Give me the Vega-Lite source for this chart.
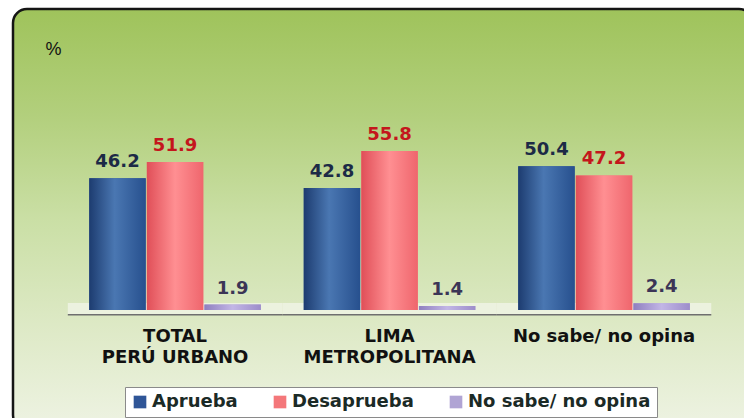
{
  "$schema": "https://vega.github.io/schema/vega-lite/v6.json",
  "width": 740,
  "height": 420,
  "autosize": {"type": "none"},
  "padding": {"left": 13, "top": 9, "right": 0, "bottom": 0},
  "background": "white",
  "config": {
    "view": {"stroke": "#151515", "strokeWidth": 2.5, "cornerRadius": 14,
      "fill": {"gradient": "linear", "x1": 0, "y1": 0, "x2": 0, "y2": 1,
        "stops": [{"offset": 0, "color": "#9fc35b"}, {"offset": 0.25, "color": "#b2cf7c"}, {"offset": 0.5, "color": "#cadfa5"}, {"offset": 0.75, "color": "#dde9c5"}, {"offset": 1, "color": "#eef3e3"}]}},
    "font": "DejaVu Sans"
  },
  "data": {
    "values": [
      {"grupo": "TOTAL|PERÚ URBANO", "serie": "Aprueba", "valor": 46.2},
      {"grupo": "TOTAL|PERÚ URBANO", "serie": "Desaprueba", "valor": 51.9},
      {"grupo": "TOTAL|PERÚ URBANO", "serie": "No sabe/ no opina", "valor": 1.9},
      {"grupo": "LIMA|METROPOLITANA", "serie": "Aprueba", "valor": 42.8},
      {"grupo": "LIMA|METROPOLITANA", "serie": "Desaprueba", "valor": 55.8},
      {"grupo": "LIMA|METROPOLITANA", "serie": "No sabe/ no opina", "valor": 1.4},
      {"grupo": "No sabe/ no opina", "serie": "Aprueba", "valor": 50.4},
      {"grupo": "No sabe/ no opina", "serie": "Desaprueba", "valor": 47.2},
      {"grupo": "No sabe/ no opina", "serie": "No sabe/ no opina", "valor": 2.4}
    ]
  },
  "layer": [
    {
      "transform": [{"filter": "datum.serie === 'Aprueba'"}],
      "mark": {"type": "bar", "width": {"band": 1.25}, "fill": "#eef3e4", "fillOpacity": 0.85},
      "encoding": {
        "x": {"field": "grupo", "type": "nominal"},
        "y": {"datum": 2.45, "type": "quantitative"},
        "y2": {"datum": -1.4}
      }
    },
    {
      "transform": [{"filter": "datum.serie === 'Aprueba'"}],
      "mark": {"type": "bar", "width": {"band": 1.25}, "fill": "#6f6f6f"},
      "encoding": {
        "x": {"field": "grupo", "type": "nominal"},
        "y": {"datum": -1.4, "type": "quantitative"},
        "y2": {"datum": -1.95}
      }
    },
    {
      "mark": {"type": "bar"},
      "encoding": {
        "x": {"field": "grupo", "type": "nominal",
          "scale": {"domain": ["TOTAL|PERÚ URBANO", "LIMA|METROPOLITANA", "No sabe/ no opina"], "paddingInner": 0.2, "paddingOuter": 0.325, "align": 0.547},
          "axis": {"orient": "bottom", "offset": -102, "title": null, "domain": false, "ticks": false, "grid": false, "labelAngle": 0,
            "labelAlign": "center", "labelPadding": 0, "labelExpr": "split(datum.label, '|')", "labelFont": "DejaVu Sans", "labelFontWeight": "bold",
            "labelFontSize": 18, "labelColor": "#111111", "labelLineHeight": 21, "labelBaseline": "top", "labelLimit": 400}},
        "xOffset": {"field": "serie", "type": "nominal", "scale": {"domain": ["Aprueba", "Desaprueba", "No sabe/ no opina"], "paddingInner": 0.02, "paddingOuter": 0}},
        "y": {"field": "valor", "type": "quantitative", "scale": {"domain": [-41.75, 105.6], "nice": false, "zero": false},
          "axis": {"orient": "left", "offset": -32, "title": "%", "titleAngle": 0, "titleX": 0, "titleY": 45, "titleAlign": "left", "titleBaseline": "alphabetic",
            "titleFont": "Liberation Sans", "titleFontSize": 18, "titleFontWeight": "normal", "titleColor": "#111111",
            "labels": false, "ticks": false, "domain": false, "grid": false}},
        "y2": {"datum": 0},
        "color": {"field": "serie", "type": "nominal",
          "scale": {"domain": ["Aprueba", "Desaprueba", "No sabe/ no opina"], "range": ["#2f5597", "#f4777a", "#b0a4d4"]},
          "legend": {"orient": "none", "legendX": 112, "legendY": 378, "direction": "horizontal", "title": null,
            "symbolType": "square", "symbolSize": 160, "symbolStrokeWidth": 0, "labelFont": "DejaVu Sans", "labelFontWeight": "bold", "labelFontSize": 18,
            "labelColor": "#1b2a26", "fillColor": "white", "strokeColor": "#8a8a8a", "padding": 6, "columnPadding": 33, "labelOffset": 3, "labelLimit": 300}}
      }
    },
    {
      "transform": [{"filter": "datum.serie === 'Aprueba'"}],
      "mark": {"type": "bar", "fill": {"gradient": "linear", "x1": 0, "y1": 0, "x2": 1, "y2": 0,
        "stops": [{"offset": 0, "color": "#1d3c70"}, {"offset": 0.45, "color": "#4a77b2"}, {"offset": 1, "color": "#27508e"}]}},
      "encoding": {
        "x": {"field": "grupo", "type": "nominal"},
        "xOffset": {"field": "serie", "type": "nominal"},
        "y": {"field": "valor", "type": "quantitative"},
        "y2": {"datum": 0}
      }
    },
    {
      "transform": [{"filter": "datum.serie === 'Desaprueba'"}],
      "mark": {"type": "bar", "fill": {"gradient": "linear", "x1": 0, "y1": 0, "x2": 1, "y2": 0,
        "stops": [{"offset": 0, "color": "#e04f58"}, {"offset": 0.5, "color": "#ff8f92"}, {"offset": 1, "color": "#ef666d"}]}},
      "encoding": {
        "x": {"field": "grupo", "type": "nominal"},
        "xOffset": {"field": "serie", "type": "nominal"},
        "y": {"field": "valor", "type": "quantitative"},
        "y2": {"datum": 0}
      }
    },
    {
      "transform": [{"filter": "datum.serie === 'No sabe/ no opina'"}],
      "mark": {"type": "bar", "fill": {"gradient": "linear", "x1": 0, "y1": 0, "x2": 1, "y2": 0,
        "stops": [{"offset": 0, "color": "#8f7fbf"}, {"offset": 0.5, "color": "#c2b6e6"}, {"offset": 1, "color": "#9d8dca"}]}},
      "encoding": {
        "x": {"field": "grupo", "type": "nominal"},
        "xOffset": {"field": "serie", "type": "nominal"},
        "y": {"field": "valor", "type": "quantitative"},
        "y2": {"datum": 0}
      }
    },
    {
      "transform": [{"filter": "datum.serie === 'Aprueba'"}],
      "mark": {"type": "text", "baseline": "alphabetic", "dy": -11, "font": "DejaVu Sans", "fontWeight": "bold", "fontSize": 18, "color": "#1c2a46"},
      "encoding": {
        "x": {"field": "grupo", "type": "nominal"},
        "xOffset": {"field": "serie", "type": "nominal"},
        "y": {"field": "valor", "type": "quantitative"},
        "text": {"field": "valor", "type": "quantitative", "format": ".1f"}
      }
    },
    {
      "transform": [{"filter": "datum.serie === 'Desaprueba'"}],
      "mark": {"type": "text", "baseline": "alphabetic", "dy": -11, "font": "DejaVu Sans", "fontWeight": "bold", "fontSize": 18, "color": "#c4161c"},
      "encoding": {
        "x": {"field": "grupo", "type": "nominal"},
        "xOffset": {"field": "serie", "type": "nominal"},
        "y": {"field": "valor", "type": "quantitative"},
        "text": {"field": "valor", "type": "quantitative", "format": ".1f"}
      }
    },
    {
      "transform": [{"filter": "datum.serie === 'No sabe/ no opina'"}],
      "mark": {"type": "text", "baseline": "alphabetic", "dy": -11, "font": "DejaVu Sans", "fontWeight": "bold", "fontSize": 18, "color": "#3b3556"},
      "encoding": {
        "x": {"field": "grupo", "type": "nominal"},
        "xOffset": {"field": "serie", "type": "nominal"},
        "y": {"field": "valor", "type": "quantitative"},
        "text": {"field": "valor", "type": "quantitative", "format": ".1f"}
      }
    }
  ]
}
